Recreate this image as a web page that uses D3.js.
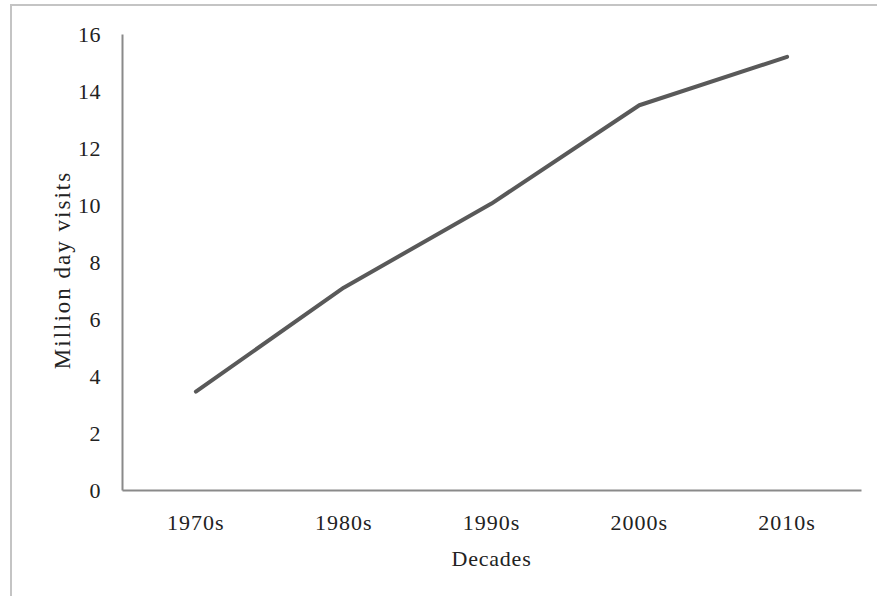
<!DOCTYPE html>
<html><head><meta charset="utf-8">
<script src="https://cdn.jsdelivr.net/npm/d3@7"></script>
<style>body{margin:0;background:#fff}svg{display:block}text{font-family:"Liberation Serif","Times New Roman",serif;fill:#222}</style>
</head><body>
<script>
const categories = ["1970s","1980s","1990s","2000s","2010s"];
const visits = [3.45, 7.1, 10.05, 13.5, 15.2];
const yTicks = [0,2,4,6,8,10,12,14,16];

const W = 877, H = 596;
const svg = d3.select("body").append("svg").attr("width", W).attr("height", H);
svg.append("rect").attr("x",11).attr("y",5).attr("width",900).attr("height",700)
  .attr("fill","none").attr("stroke","#c4c4c4").attr("stroke-width",2);

const mLeft = 122, mRight = 861, mTop = 34, mBottom = 490;
const x = d3.scaleBand().domain(categories).range([mLeft, mRight]);
const y = d3.scaleLinear().domain([0,16]).range([mBottom, mTop]);

const xAxis = svg.append("g").attr("transform",`translate(0,${mBottom})`)
  .call(d3.axisBottom(x).tickSize(0).tickPadding(24));
xAxis.select(".domain").attr("stroke","#8a8a8a").attr("stroke-width",2);
xAxis.selectAll("text").attr("font-size",22).attr("fill","#222").attr("letter-spacing",1)
  .style("font-family","Liberation Serif");

const yAxis = svg.append("g").attr("transform",`translate(${mLeft},0)`)
  .call(d3.axisLeft(y).tickValues(yTicks).tickSize(0).tickPadding(21));
yAxis.select(".domain").attr("stroke","#8a8a8a").attr("stroke-width",2);
yAxis.selectAll("text").attr("font-size",22).attr("fill","#222").attr("letter-spacing",0.5)
  .style("font-family","Liberation Serif");

const line = d3.line().x((d,i)=>x(categories[i])+x.bandwidth()/2).y(d=>y(d));
svg.append("path").datum(visits).attr("d",line).attr("fill","none")
  .attr("stroke","#595959").attr("stroke-width",4).attr("stroke-linecap","round").attr("stroke-linejoin","round");

svg.append("text").attr("x",(mLeft+mRight)/2).attr("y",566).attr("text-anchor","middle")
  .attr("font-size",22).attr("letter-spacing",0.8).text("Decades");
svg.append("text").attr("transform",`translate(70,270) rotate(-90)`).attr("text-anchor","middle")
  .attr("font-size",23).attr("letter-spacing",2).text("Million day visits");
</script>
</body></html>
